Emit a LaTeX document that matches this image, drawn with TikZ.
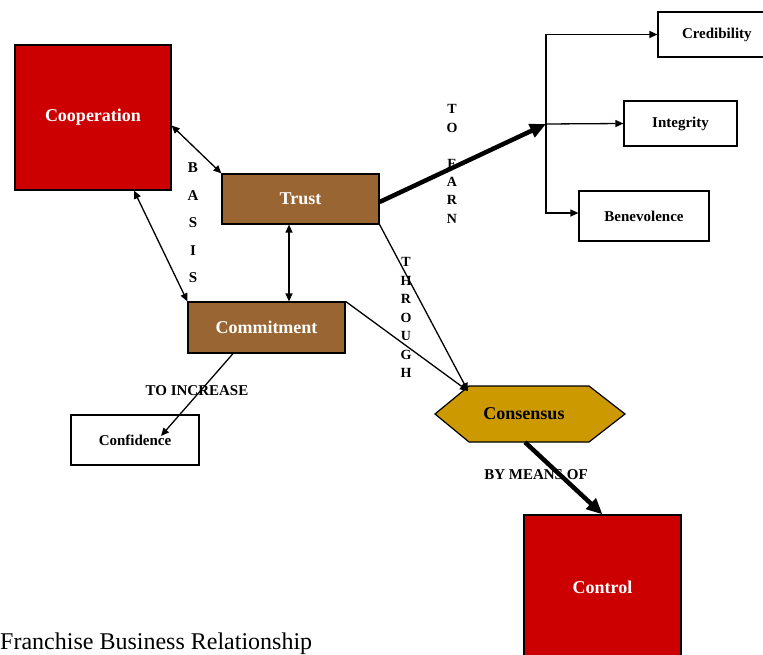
\documentclass[tikz,border=0pt]{standalone}
\usepackage{fontspec}
\setmainfont{Liberation Serif}
\usetikzlibrary{arrows.meta}
\definecolor{boxred}{HTML}{CC0000}
\definecolor{boxbrown}{HTML}{996633}
\definecolor{hexgold}{HTML}{CC9900}
\begin{document}
\begin{tikzpicture}[x=1pt,y=-1pt,
  frame/.style={draw=black,line width=1.2pt,inner sep=0pt},
  bigbox/.style={frame,font=\bfseries\fontsize{18}{20}\selectfont},
  redbox/.style={bigbox,fill=boxred,text=white},
  brownbox/.style={bigbox,fill=boxbrown,text=white},
  whitebox/.style={frame,fill=white,font=\bfseries\fontsize{15}{17}\selectfont},
  lbl/.style={inner sep=0pt,font=\bfseries\fontsize{15}{17}\selectfont},
  vlbl/.style={lbl,align=center},
  link/.style={line width=1.3pt,-{Triangle[length=8pt,width=7pt]}},
  dlink/.style={line width=1.3pt,{Triangle[length=8pt,width=7pt]}-{Triangle[length=8pt,width=7pt]}},
  heavy/.style={line width=4.5pt,-{Triangle[length=16pt,width=14pt]}}]
\useasboundingbox (0,0) rectangle (763,655);
\clip (0,0) rectangle (763,655);

% main concept boxes
\node[redbox,minimum width=156pt,minimum height=145pt] (coop) at (93,117.5) {Cooperation};
\node[brownbox,minimum width=157pt,minimum height=50pt] (trust) at (300.5,199) {Trust};
\node[brownbox,minimum width=157pt,minimum height=51pt] (commit) at (266.5,327.5) {Commitment};
\node[whitebox,minimum width=128pt,minimum height=50pt] (conf) at (135,440) {Confidence};
\node[redbox,minimum width=157pt,minimum height=150pt] (ctrl) at (602.5,590) {\raisebox{5pt}{Control}};

% outcome boxes on the right
\node[whitebox,minimum width=120pt,minimum height=45pt,text width=112pt,align=left] (cred) at (718,34.5) {\hspace*{20pt}Credibility};
\node[whitebox,minimum width=113pt,minimum height=45pt] (integ) at (680.5,123.5) {\raisebox{-2pt}{Integrity}};
\node[whitebox,minimum width=130pt,minimum height=50pt] (bene) at (644,216) {Benevolence};

% consensus hexagon
\coordinate (hl) at (435,414);
\coordinate (htl) at (469,386);
\coordinate (htr) at (589,386);
\coordinate (hr) at (625,414);
\coordinate (hbr) at (589,442);
\coordinate (hbl) at (469,442);
\filldraw[fill=hexgold,draw=black,line width=1.2pt] (hl) -- (htl) -- (htr) -- (hr) -- (hbr) -- (hbl) -- cycle;
\node[inner sep=0pt,minimum width=190pt,minimum height=56pt,font=\bfseries\fontsize{18}{20}\selectfont] (cons) at (530,414) {\hspace*{-12pt}Consensus};
\coordinate (conshit) at (468,391);

% connectors
\draw[dlink] ([yshift=-8pt]coop.east) -- (trust.north west);
\draw[dlink] ([xshift=41pt]coop.south) -- (commit.north west);
\draw[dlink] ([xshift=-11.5pt]trust.south) -- ([xshift=-11.5pt]trust.south |- commit.north);
\draw[link] (trust.south east) -- (conshit);
\draw[link] (commit.north east) -- (conshit);
\draw[link] ([xshift=-33.5pt]commit.south) -- ([xshift=26pt,yshift=4pt]conf.center);
\draw[heavy] ([xshift=-5pt]cons.south) -- (ctrl.north);

\coordinate (fork) at (546,124);
\draw[heavy] ([yshift=-3pt]trust.east) -- (fork);
\draw[link] (fork) |- (cred.west);
\draw[link] (fork) -- (integ.west);
\draw[link] (fork) |- ([yshift=3pt]bene.west);

% connector labels
\node[vlbl,font=\bfseries\fontsize{15}{27.5}\selectfont] (basis) at (193,223) {B\\A\\S\\I\\S};
\node[vlbl,font=\bfseries\fontsize{14}{18.2}\selectfont] (earn) at (452,164) {T\\O\\\mbox{}\\E\\A\\R\\N};
\node[vlbl,font=\bfseries\fontsize{14}{18.5}\selectfont] (through) at (406,317.5) {T\\H\\R\\O\\U\\G\\H};
\node[lbl] (incr) at (197,391) {TO INCREASE};
\node[lbl] (means) at (536,475) {BY MEANS OF};

% caption
\node[anchor=base west,inner sep=0pt,font=\fontsize{24}{26}\selectfont] (caption) at (0,649) {Franchise Business Relationship};
\end{tikzpicture}
\end{document}
